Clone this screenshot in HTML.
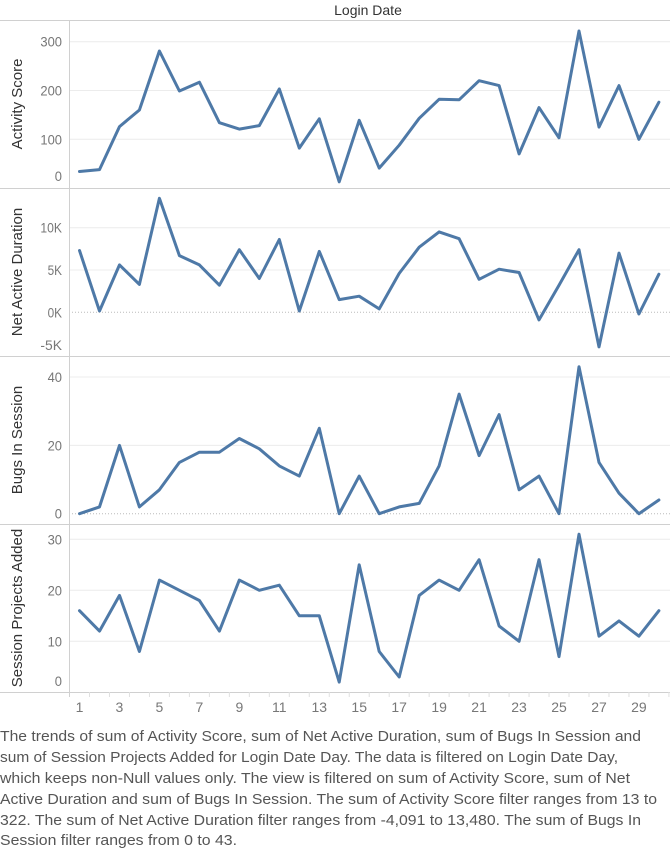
<!DOCTYPE html>
<html><head><meta charset="utf-8"><style>
html,body{margin:0;padding:0;background:#fff;}
svg{display:block;font-family:"Liberation Sans",sans-serif;}
</style></head><body>
<svg id="chart" width="670" height="852">
<text x="368" y="15" text-anchor="middle" font-size="14" fill="#333">Login Date</text>
<g id="panels"></g>
<g id="xaxis"></g>
<g font-size="15" fill="#555">
<text x="0" y="741" textLength="641" lengthAdjust="spacingAndGlyphs">The trends of sum of Activity Score, sum of Net Active Duration, sum of Bugs In Session and</text>
<text x="0" y="762" textLength="618" lengthAdjust="spacingAndGlyphs">sum of Session Projects Added for Login Date Day. The data is filtered on Login Date Day,</text>
<text x="0" y="783" textLength="630" lengthAdjust="spacingAndGlyphs">which keeps non-Null values only. The view is filtered on sum of Activity Score, sum of Net</text>
<text x="0" y="804" textLength="657" lengthAdjust="spacingAndGlyphs">Active Duration and sum of Bugs In Session. The sum of Activity Score filter ranges from 13 to</text>
<text x="0" y="825" textLength="641" lengthAdjust="spacingAndGlyphs">322. The sum of Net Active Duration filter ranges from -4,091 to 13,480. The sum of Bugs In</text>
<text x="0" y="845" textLength="237" lengthAdjust="spacingAndGlyphs">Session filter ranges from 0 to 43.</text>
</g>
</svg>
<script>
const days = Array.from({length:30},(_,i)=>i+1);
const activityScore = [34,38,126,160,281,199,217,134,121,128,203,82,142,13,139,41,88,143,182,181,220,210,70,165,103,322,125,210,100,176];
const netActiveDuration = [7300,150,5600,3300,13480,6700,5600,3200,7400,4000,8600,150,7200,1500,1900,400,4600,7700,9500,8700,3900,5100,4700,-900,3200,7400,-4091,7000,-200,4500];
const bugsInSession = [0,2,20,2,7,15,18,18,22,19,14,11,25,0,11,0,2,3,14,35,17,29,7,11,0,43,15,6,0,4];
const sessionProjects = [16,12,19,8,22,20,18,12,22,20,21,15,15,2,25,8,3,19,22,20,26,13,10,26,7,31,11,14,11,16];
const ticksActivity = [0,100,200,300];
const ticksDuration = [-5000,0,5000,10000];
const ticksBugs = [0,20,40];
const ticksProjects = [0,10,20,30];
const xTickLabels = [1,3,5,7,9,11,13,15,17,19,21,23,25,27,29];

const NS="http://www.w3.org/2000/svg";
const svg=document.getElementById('chart');
const pg=document.getElementById('panels');
function mk(t,a,p){const e=document.createElementNS(NS,t);for(const k in a)e.setAttribute(k,a[k]);(p||pg).appendChild(e);return e;}
const x=d=>79.5+(d-1)*19.98;

const panels=[
 {name:'activity-score',title:'Activity Score',vals:activityScore,ticks:ticksActivity,top:20,bot:188,v0:0,y0:188.1,v1:300,y1:41.7,fmt:v=>String(v),zero:false,labelY:{0:181}},
 {name:'net-active-duration',title:'Net Active Duration',vals:netActiveDuration,ticks:ticksDuration,top:188,bot:356,v0:0,y0:312.3,v1:10000,y1:227.7,fmt:v=>(v/1000)+'K',zero:true,labelY:{'-5000':350}},
 {name:'bugs-in-session',title:'Bugs In Session',vals:bugsInSession,ticks:ticksBugs,top:356,bot:524,v0:0,y0:513.7,v1:40,y1:377,fmt:v=>String(v),zero:true,labelY:{}},
 {name:'session-projects-added',title:'Session Projects Added',vals:sessionProjects,ticks:ticksProjects,top:524,bot:692,v0:0,y0:692.3,v1:30,y1:539.3,fmt:v=>String(v),zero:false,labelY:{0:686}}
];

panels.forEach(p=>{
 const y=v=>p.y0+(v-p.v0)*(p.y1-p.y0)/(p.v1-p.v0);
 const g=mk('g',{});
 
 
 p.ticks.forEach(t=>{
  const yy=y(t);
  if(t===0&&p.zero){
   const l=mk('line',{x1:69,x2:670,y1:yy,y2:yy,stroke:'#bbb','stroke-width':1,'stroke-dasharray':'1,2'},g);
   
   
  } else if(yy>p.top+2&&yy<p.bot-2){
   const l=mk('line',{x1:69,x2:670,y1:yy,y2:yy,stroke:'#ececec','stroke-width':1},g);
   
   
  }
  const ly=(p.labelY[String(t)]!==undefined)?p.labelY[String(t)]:yy+5;
  const tx=mk('text',{x:62,y:ly,'text-anchor':'end','font-size':14,fill:'#777',textLength:p.fmt(t).length*7.2,lengthAdjust:'spacingAndGlyphs'},g);
  tx.textContent=p.fmt(t);
  
  
 });
 const mid=(p.top+p.bot)/2;
 const at=mk('text',{x:0,y:0,transform:`translate(22,${mid}) rotate(-90)`,'text-anchor':'middle','font-size':15,fill:'#333'},g);
 at.textContent=p.title;
 
 
 const d=p.vals.map((v,i)=>(i?'L':'M')+x(days[i]).toFixed(1)+','+y(v).toFixed(1)).join(' ');
 const path=mk('path',{d:d,fill:'none',stroke:'#4e79a7','stroke-width':3,'stroke-linejoin':'round','stroke-linecap':'round'},g);
 
 
 const sep=mk('line',{x1:0,x2:670,y1:p.top+0.5,y2:p.top+0.5,stroke:'#d0d0d0','stroke-width':1},g);
 
 
});
const bl=mk('line',{x1:0,x2:670,y1:692.5,y2:692.5,stroke:'#d0d0d0','stroke-width':1});


const ax=mk('line',{x1:69.5,x2:69.5,y1:20,y2:697,stroke:'#d0d0d0','stroke-width':1});



const xg=document.getElementById('xaxis');
days.forEach(dd=>{
 const t=mk('line',{x1:x(dd)+10,x2:x(dd)+10,y1:692,y2:697,stroke:'#e0e0e0','stroke-width':1},xg);
 
 
});
xTickLabels.forEach(v=>{
 const t=mk('text',{x:x(v),y:712,'text-anchor':'middle','font-size':14,fill:'#777'},xg);
 t.textContent=v;
 
 
});
</script>
</body></html>
